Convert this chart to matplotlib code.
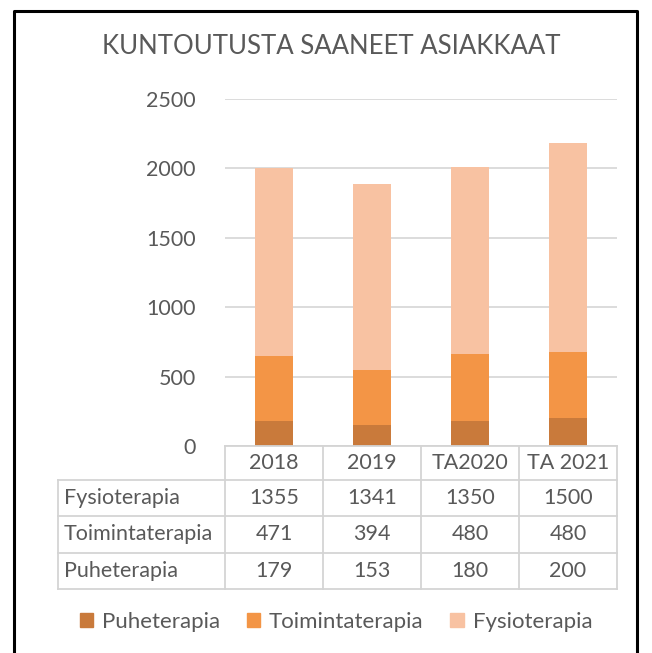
import numpy as np
import matplotlib
matplotlib.use("Agg")
import matplotlib.pyplot as plt
from matplotlib.patches import Patch

# data
categories = ["2018", "2019", "TA2020", "TA 2021"]
series_names = ["Fysioterapia", "Toimintaterapia", "Puheterapia"]
fysioterapia = [1355, 1341, 1350, 1500]
toimintaterapia = [471, 394, 480, 480]
puheterapia = [179, 153, 180, 200]
yticks = [0, 500, 1000, 1500, 2000, 2500]

c_puhe = "#C97A3B"
c_toim = "#F39546"
c_fysio = "#F8C2A2"
txt = "#595959"
grid = "#D9D9D9"

plt.rcParams["font.family"] = ["Lato", "DejaVu Sans"]

W, H = 652, 653
fig = plt.figure(figsize=(W / 100, H / 100), dpi=100)

def fx(px):
    return px / W

def fy(py):
    return 1 - py / H

# plot area
x0, x1, y_top, y_bot = 225, 617, 99, 446
ax = fig.add_axes([fx(x0), fy(y_bot), fx(x1) - fx(x0), fy(y_top) - fy(y_bot)])
x = np.arange(len(categories))
w = 0.39
ax.bar(x, puheterapia, w, color=c_puhe, zorder=3)
ax.bar(x, toimintaterapia, w, bottom=puheterapia, color=c_toim, zorder=3)
bottom2 = np.array(puheterapia) + np.array(toimintaterapia)
ax.bar(x, fysioterapia, w, bottom=bottom2, color=c_fysio, zorder=3)
ax.set_xlim(-0.5, len(categories) - 0.5)
ax.set_ylim(0, 2500)
ax.set_yticks(yticks)
ax.set_yticklabels([str(v) for v in yticks], fontsize=15.5, color=txt)
ax.tick_params(axis="y", length=0, pad=21)
ax.set_xticks([])
ax.grid(axis="y", color=grid, linewidth=1.3, zorder=0)
for s in ax.spines.values():
    s.set_visible(False)

# title
fig.text(fx(331), fy(47), "KUNTOUTUSTA SAANEET ASIAKKAAT", ha="center", va="center",
         fontsize=18.5, color=txt)

# data table below the plot
tab = fig.add_axes([0, 0, 1, 1], zorder=5)
tab.set_xlim(0, W)
tab.set_ylim(H, 0)
tab.axis("off")
col_w = (x1 - x0) / len(categories)
col_edges = [x0 + i * col_w for i in range(len(categories) + 1)]
left_edge = 58
row_edges = [446, 480, 516, 553, 589]
lc = "#D4D4D4"
lw = 1.3
tab.plot([x0, x1], [row_edges[0], row_edges[0]], color=lc, lw=lw)
for r in row_edges[1:]:
    tab.plot([left_edge, x1], [r, r], color=lc, lw=lw)
for c in col_edges:
    tab.plot([c, c], [row_edges[0], row_edges[-1]], color=lc, lw=lw)
tab.plot([left_edge, left_edge], [row_edges[1], row_edges[-1]], color=lc, lw=lw)

fs = 15.5
for i, cat in enumerate(categories):
    cx = (col_edges[i] + col_edges[i + 1]) / 2
    tab.text(cx, (row_edges[0] + row_edges[1]) / 2, cat, ha="center", va="center",
             fontsize=fs, color=txt)
rows = [fysioterapia, toimintaterapia, puheterapia]
for r, (name, vals) in enumerate(zip(series_names, rows)):
    cy = (row_edges[r + 1] + row_edges[r + 2]) / 2
    tab.text(left_edge + 6, cy, name, ha="left", va="center", fontsize=fs, color=txt)
    for i, v in enumerate(vals):
        cx = (col_edges[i] + col_edges[i + 1]) / 2
        tab.text(cx, cy, str(v), ha="center", va="center", fontsize=fs, color=txt)

# outer frame
tab.plot([14, 14, 637, 637], [H + 5, 11, 11, H + 5], color="black", lw=2.2, clip_on=False)

# legend
handles = [Patch(color=c_puhe), Patch(color=c_toim), Patch(color=c_fysio)]
labels = ["Puheterapia", "Toimintaterapia", "Fysioterapia"]
fig.legend(handles, labels, loc="center", bbox_to_anchor=(fx(336), fy(622)), ncol=3,
           frameon=False, fontsize=16, handlelength=0.6, handleheight=0.6,
           handletextpad=0.4, columnspacing=1.2, labelcolor=txt)

fig.savefig("out.png", dpi=100, facecolor="white")
